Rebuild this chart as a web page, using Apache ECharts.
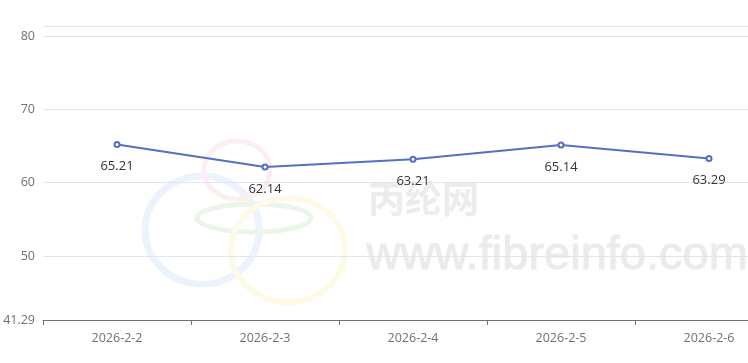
<!DOCTYPE html>
<html><head><meta charset="utf-8">
<script src="https://cdn.jsdelivr.net/npm/echarts@6/dist/echarts.min.js"></script>
<style>html,body{margin:0;padding:0;background:#fff}#c{width:748px;height:363px}</style>
</head><body><div id="c"></div>
<script>
const categories = ['2026-2-2','2026-2-3','2026-2-4','2026-2-5','2026-2-6'];
const values = [65.21, 62.14, 63.21, 65.14, 63.29];
const yMin = 41.29;
const yMax = 81.29;

const chart = echarts.init(document.getElementById('c'));
chart.setOption({
  animation: false,
  backgroundColor: '#fff',
  textStyle: {fontFamily: '"Open Sans", sans-serif'},
  graphic: [
    {type:'ellipse', shape:{cx:202, cy:230, rx:57, ry:54}, style:{fill:null, stroke:'#edf3fd', lineWidth:7}, z:-10},
    {type:'ellipse', shape:{cx:237, cy:170, rx:33, ry:29}, style:{fill:null, stroke:'#fcefef', lineWidth:5}, z:-10},
    {type:'ellipse', shape:{cx:254, cy:218, rx:57, ry:14}, style:{fill:null, stroke:'#ebf5ea', lineWidth:5}, z:-10},
    {type:'ellipse', shape:{cx:288, cy:250, rx:57, ry:52}, style:{fill:null, stroke:'#fefae8', lineWidth:6}, z:-10},
    {type:'text', left:368, top:180, style:{text:'丙纶网', font:'bold 37px "Noto Sans CJK SC"', fill:'#ececec'}, z:-10},
    {type:'text', left:366, top:232, style:{text:'www.fibreinfo.com', font:'47px "Liberation Sans"', fill:'#ebebeb', stroke:'#ebebeb', lineWidth:1}, z:-10}
  ],
  grid: {left:43, top:26.5, width:740, bottom:43, containLabel:false, outerBoundsMode:'none'},
  xAxis: {
    type:'category', data:categories, boundaryGap:true,
    axisLine:{lineStyle:{color:'#6E7079'}},
    axisTick:{show:true, lineStyle:{color:'#6E7079'}},
    axisLabel:{color:'#6E7079', fontSize:12.5, margin:12}
  },
  yAxis: {
    type:'value', min:yMin, max:yMax,
    axisLine:{show:false}, axisTick:{show:false},
    axisLabel:{color:'#6E7079', fontSize:12.5, showMaxLabel:false},
    splitLine:{lineStyle:{color:'#E0E6F1'}}
  },
  series: [{
    type:'line', data:values,
    symbol:'emptyCircle', symbolSize:5,
    lineStyle:{color:'#5470c6', width:2},
    itemStyle:{color:'#5470c6'},
    label:{show:true, position:'bottom', distance:12, color:'#333', fontSize:13}
  }]
});
</script></body></html>
